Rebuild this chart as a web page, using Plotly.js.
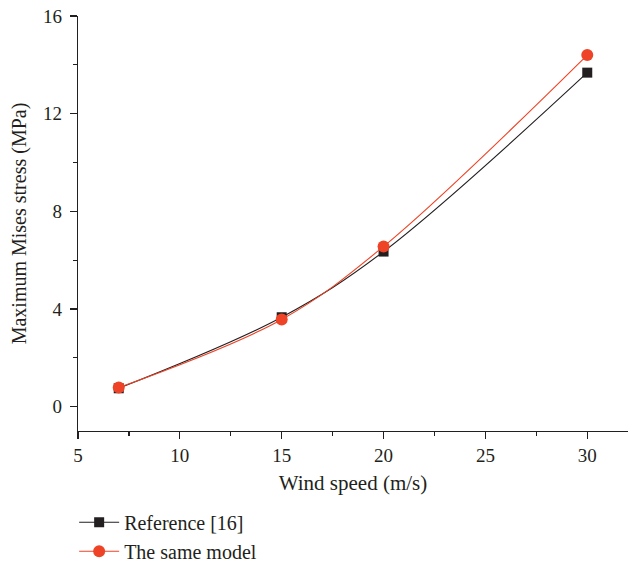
<!DOCTYPE html>
<html>
<head>
<meta charset="utf-8">
<script src="https://cdn.plot.ly/plotly-3.0.1.min.js"></script>
<style>
  html, body { margin: 0; padding: 0; background: #fff; }
  #chart { width: 630px; height: 565px; }
</style>
</head>
<body>
<div id="chart"></div>
<script>
// Wind speed (m/s)
const windSpeed = [7, 15, 20, 30];
// Maximum Mises stress (MPa)
const referenceStress = [0.75, 3.66, 6.35, 13.68];
const sameModelStress = [0.78, 3.57, 6.56, 14.4];
const seriesNames = ['Reference [16]', 'The same model'];

const ink = '#231f20';
const red = '#ee4326';
const serif = '"Liberation Serif", "DejaVu Serif", serif';

const traces = [
  {
    x: windSpeed, y: referenceStress, name: seriesNames[0],
    type: 'scatter', mode: 'lines+markers',
    line: { color: ink, width: 1.1, shape: 'spline', smoothing: 1 },
    marker: { symbol: 'square', size: 10, color: ink }
  },
  {
    x: windSpeed, y: sameModelStress, name: seriesNames[1],
    type: 'scatter', mode: 'lines+markers',
    line: { color: red, width: 1.1, shape: 'spline', smoothing: 1 },
    marker: { symbol: 'circle', size: 12, color: red }
  }
];

const axisCommon = {
  showgrid: false, zeroline: false, showline: true, mirror: false,
  linecolor: ink, linewidth: 1.2, automargin: false,
  ticks: 'outside', ticklen: 7, tickwidth: 1.2, tickcolor: ink,
  tickfont: { family: serif, size: 19, color: ink },
  minor: { ticks: 'outside', ticklen: 4, tickwidth: 1.2, tickcolor: ink, showgrid: false }
};

const layout = {
  width: 630, height: 565,
  paper_bgcolor: '#fff', plot_bgcolor: '#fff',
  margin: { l: 78, r: 2, t: 16, b: 134, autoexpand: false },
  font: { family: serif, color: ink },
  xaxis: Object.assign({}, axisCommon, {
    range: [5, 32], tick0: 5, dtick: 5, ticklabelstandoff: 0,
    minor: Object.assign({}, axisCommon.minor, { dtick: 2.5 }),
    title: { text: 'Wind speed (m/s)', font: { family: serif, size: 21, color: ink }, standoff: 10 }
  }),
  yaxis: Object.assign({}, axisCommon, {
    range: [-1, 16], tick0: 0, dtick: 4, ticklabelstandoff: 4,
    minor: Object.assign({}, axisCommon.minor, { dtick: 2 }),
    title: { text: 'Maximum Mises stress (MPa)', font: { family: serif, size: 20, color: ink }, standoff: 11 }
  }),
  showlegend: true,
  legend: {
    x: -0.007, xanchor: 'left', y: -0.173, yanchor: 'top',
    orientation: 'v', bgcolor: 'rgba(0,0,0,0)',
    font: { family: serif, size: 20, color: ink },
    itemwidth: 40, tracegroupgap: 0
  }
};

Plotly.newPlot('chart', traces, layout, { displayModeBar: false, staticPlot: true });
</script>
</body>
</html>
